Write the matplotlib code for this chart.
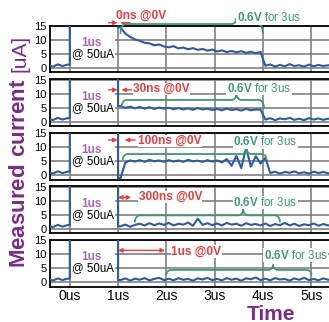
import numpy as np
import matplotlib
matplotlib.use('Agg')
import matplotlib.pyplot as plt
from matplotlib.patches import Rectangle

plt.rcParams['font.family'] = ['Liberation Sans', 'DejaVu Sans']
plt.rcParams['mathtext.fontset'] = 'custom'
plt.rcParams['mathtext.rm'] = 'Liberation Sans'
plt.rcParams['mathtext.bf'] = 'Liberation Sans:bold'

# time samples (us), 0.1us step
T_STEP = 0.1
T_PRE_START = -0.45
T_POST_START = 1.05

# 50uA reset pulse from 0us to 1us (off scale)
PULSE_START = 0.0
PULSE_END = 1.0
PULSE_UA = 50

# current before the pulse (uA)
pre_pulse = [1.2, 0.6, 1.4, 0.8, 1.3]

# current after the pulse, 1.05us .. 5.45us (uA)
after_0ns = [14.6, 12.4, 11.2, 10.3, 9.8, 9.1, 8.9, 8.2, 8.5, 7.8,
             7.5, 7.9, 7.1, 7.4, 6.8, 7.2, 6.6, 6.9, 6.3, 6.7,
             6.0, 6.4, 5.8, 6.2, 5.7, 6.1, 5.5, 5.9, 5.4, 5.8,
             0.9, 1.4, 0.6, 1.2, 0.7, 1.5, 0.8, 1.1, 0.6, 1.3,
             0.7, 1.2, 0.8, 1.1, 0.9]
after_30ns = [5.6, 5.0, 5.4, 4.8, 5.3, 4.7, 5.2, 4.6, 5.1, 4.7,
              5.0, 4.5, 4.9, 4.4, 4.8, 4.3, 4.9, 4.4, 4.7, 4.2,
              4.6, 4.1, 4.7, 4.2, 4.5, 4.0, 4.6, 4.1, 4.4, 4.3,
              0.8, 1.3, 0.6, 1.2, 0.9, 1.4, 0.7, 1.1, 0.6, 1.3,
              0.8, 1.2, 0.7, 1.1, 0.9]
after_100ns = [-1.0, 4.6, 5.3, 4.9, 5.4, 4.8, 5.5, 5.0, 5.3, 4.8,
               5.4, 4.9, 5.3, 4.8, 5.5, 5.0, 5.2, 4.8, 5.4, 4.9,
               5.3, 4.6, 5.8, 3.4, 6.9, 2.6, 9.8, 3.1, 6.8, 4.2,
               6.2, 0.8, 1.3, 0.6, 1.2, 0.9, 1.4, 0.7, 1.1, 0.6,
               1.3, 0.8, 1.2, 0.7, 1.0]
after_300ns = [0.9, 1.5, 0.7, 1.4, 1.8, 1.2, 2.0, 1.3, 1.9, 1.4,
               2.1, 1.2, 1.8, 1.5, 2.2, 1.1, 3.6, 1.4, 2.0, 1.3,
               1.9, 1.2, 2.1, 1.5, 1.8, 1.1, 2.0, 1.4, 1.7, 1.2,
               1.9, 1.0, 1.7, 1.3, 2.1, 1.2, 1.8, 1.0, 1.6, 1.3,
               1.9, 1.1, 1.7, 1.2, 1.5]
after_1us = [0.8, 1.4, 0.6, 1.3, 0.9, 1.5, 0.7, 1.2, 1.6, 0.8,
             1.3, 0.7, 1.5, 0.9, 1.2, 0.6, 1.4, 1.0, 1.6, 0.8,
             1.2, 0.7, 1.5, 0.9, 1.3, 0.6, 1.4, 1.1, 1.7, 0.8,
             1.3, 0.7, 1.5, 1.0, 1.2, 0.6, 1.4, 0.9, 1.6, 0.8,
             1.2, 0.7, 1.4, 0.9, 1.1]
traces = [after_0ns, after_30ns, after_100ns, after_300ns, after_1us]

# annotations
delay_labels = ['0ns @0V', '30ns @0V', '100ns @0V', '300ns @0V', '1us @0V']
delay_us = [0.0, 0.03, 0.1, 0.3, 1.0]
bias_label = r'$\mathbf{0.6V}$ for 3us'
x_ticks = [0, 1, 2, 3, 4, 5]
x_tick_labels = ['0us', '1us', '2us', '3us', '4us', '5us']
y_ticks = [0, 5, 10, 15]

BLUE = '#2a5aa8'
RED = '#f03a3a'
GREEN = '#3d9b6b'
PURPLE = '#7b2a8c'
PINK = '#aa66b8'

# layout, per panel
red_text_xy = [(1.47, 18.8), (1.9, 11.7), (2.07, 12.2), (2.08, 11.4), (2.62, 11.0)]
arrow_y = [16.3, 11.4, 12.6, 11.2, 11.4]
# brace: start, end, tip x, base y, end y, tip y
braces = [(1.05, 4.0, 3.45, 15.8, 12.6, 17.9),
          (1.07, 4.02, 3.45, 7.8, 5.0, 10.0),
          (1.1, 4.07, 3.66, 7.6, 5.8, 9.6),
          (1.35, 4.35, 3.59, 4.8, 2.6, 7.0),
          (2.0, 5.0, 4.21, 4.4, 2.9, 6.2)]
green_text_xy = [(4.12, 18.1), (3.92, 12.0), (4.05, 12.0), (4.05, 9.4), (4.68, 9.6)]

W, H = 329, 322
PX_US = 48.3
AX_LEFT = 49.5
AX_H = 46.5
tops = [26, 79.5, 133, 186.5, 240]
XMIN = -0.42
XMAX = XMIN + (W * 1.01 - AX_LEFT) / PX_US


def draw_brace(ax, x0, x1, xt, yb, ye, ytip):
    rx = 5 / PX_US
    phi = np.linspace(0, np.pi / 2, 12)
    xs = np.concatenate([
        x0 + rx * (1 - np.cos(phi)),
        xt - rx + rx * np.sin(phi),
        xt + rx * (1 - np.cos(phi)),
        x1 - rx + rx * np.sin(phi),
    ])
    ys = np.concatenate([
        ye + (yb - ye) * np.sin(phi),
        yb + (ytip - yb) * (1 - np.cos(phi)),
        ytip - (ytip - yb) * np.sin(phi),
        yb - (yb - ye) * (1 - np.cos(phi)),
    ])
    ax.plot(xs, ys, color=GREEN, lw=1.3, clip_on=False, zorder=6)


fig = plt.figure(figsize=(W / 100, H / 100), dpi=100)

t_pre = T_PRE_START + T_STEP * np.arange(len(pre_pulse))

for i, after in enumerate(traces):
    bottom = 1 - (tops[i] + AX_H) / H
    ax = fig.add_axes([AX_LEFT / W, bottom, 1.01 - AX_LEFT / W, AX_H / H])

    t_post = T_POST_START + T_STEP * np.arange(len(after))
    t = np.concatenate([t_pre, [PULSE_START, PULSE_START, PULSE_END, PULSE_END], t_post])
    current = np.concatenate([pre_pulse, [pre_pulse[-1], PULSE_UA, PULSE_UA, after[0]], after])
    ax.plot(t, current, color=BLUE, lw=1.5, zorder=4)

    ax.set_xlim(XMIN, XMAX)
    ax.set_ylim(-1.5, 15.1)
    ax.set_xticks(x_ticks)
    ax.set_yticks(y_ticks)
    ax.grid(True, color='#808080', lw=1.2, zorder=1)
    ax.set_axisbelow(True)
    ax.tick_params(length=0, labelsize=8, pad=2)
    for s in ax.spines.values():
        s.set_linewidth(1.3)
    ax.spines['right'].set_visible(False)
    if i < 4:
        ax.set_xticklabels([])
    else:
        ax.set_xticklabels(x_tick_labels, fontsize=10)
        ax.tick_params(axis='x', pad=2)

    # pulse box
    ax.add_patch(Rectangle((0.03, 7.6), 0.9, 4.2, facecolor='white',
                           edgecolor='none', zorder=2.5))
    ax.text(0.45, 8.9, '1us', color=PINK, fontsize=8.5, fontweight='bold',
            ha='center', va='center', zorder=5)
    ax.text(0.48, 5.0, '@ 50uA', color='black', fontsize=8.3,
            ha='center', va='center', zorder=5,
            bbox=dict(facecolor='white', edgecolor='none', pad=0.5))

    # zero-bias delay
    d = delay_us[i]
    ay = arrow_y[i]
    if d < 0.2:
        ax.annotate('', xy=(0.99, ay), xytext=(0.8, ay), annotation_clip=False,
                    arrowprops=dict(arrowstyle='-|>', color=RED, lw=1.0,
                                    mutation_scale=6, shrinkA=0, shrinkB=0),
                    zorder=6)
        ax.annotate('', xy=(1.04 + d, ay), xytext=(1.25 + d, ay),
                    annotation_clip=False,
                    arrowprops=dict(arrowstyle='-|>', color=RED, lw=1.0,
                                    mutation_scale=6, shrinkA=0, shrinkB=0),
                    zorder=6)
    else:
        ax.annotate('', xy=(1.0, ay), xytext=(1.0 + d - 0.03, ay),
                    annotation_clip=False,
                    arrowprops=dict(arrowstyle='<|-|>', color=RED, lw=1.0,
                                    mutation_scale=6, shrinkA=0, shrinkB=0),
                    zorder=6)
    rx_, ry_ = red_text_xy[i]
    ax.text(rx_, ry_, delay_labels[i], color=RED, fontsize=8.6, fontweight='bold',
            ha='center', va='center', zorder=7, clip_on=False,
            bbox=dict(facecolor='white', edgecolor='none', pad=0.3))

    # 0.6V bias brace
    draw_brace(ax, *braces[i])
    gx, gy = green_text_xy[i]
    ax.text(gx, gy, bias_label, color=GREEN, fontsize=8.4,
            ha='center', va='center', zorder=7, clip_on=False,
            bbox=dict(facecolor='white', edgecolor='none', pad=0.3))

fig.text(20 / W, 1 - 173 / H, r'$\mathbf{Measured\ current}$', color=PURPLE,
         fontsize=16, rotation=90, ha='center', va='center')
fig.text(20 / W, 1 - 53 / H, '[uA]', color=PURPLE,
         fontsize=15, rotation=90, ha='center', va='center')
fig.text(271 / W, 1 - 319.5 / H, 'Time', color=PURPLE, fontsize=15,
         fontweight='bold', ha='center', va='baseline')

fig.savefig('out.png', dpi=100)
